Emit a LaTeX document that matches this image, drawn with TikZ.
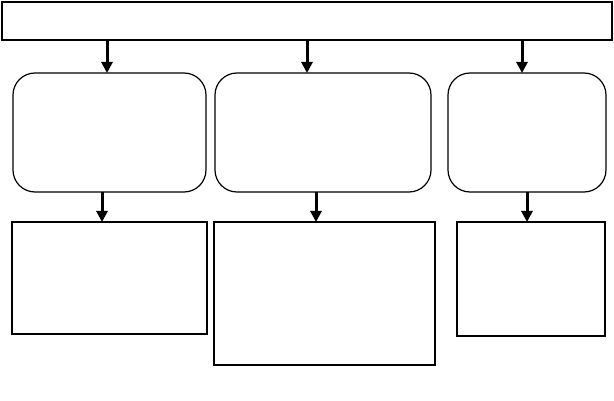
\documentclass[tikz,border=0pt]{standalone}
\usetikzlibrary{arrows.meta}
\begin{document}
\begin{tikzpicture}[x=1pt,y=-1pt,
 box/.style={draw,line width=1.2pt,inner sep=0pt,outer sep=0pt,anchor=north west},
 rbox/.style={box,rounded corners=22pt},
 arr/.style={draw,line width=3pt,-{Triangle[width=11pt,length=11pt]}}]
\useasboundingbox (0,0) rectangle (614,401);
\node[box,minimum width=610pt,minimum height=38pt] (top) at (2,2) {};
\node[rbox,minimum width=193pt,minimum height=119pt] (b1) at (13,73) {};
\node[rbox,minimum width=216pt,minimum height=119pt] (b2) at (215,73) {};
\node[rbox,minimum width=158pt,minimum height=119pt] (b3) at (448,73) {};
\node[box,minimum width=195pt,minimum height=112pt] (r1) at (12,222) {};
\node[box,minimum width=221pt,minimum height=143pt] (r2) at (214,222) {};
\node[box,minimum width=148pt,minimum height=114pt] (r3) at (457,222) {};
\coordinate (a1) at (107,0);
\coordinate (a2) at (307,0);
\coordinate (a3) at (522,0);
\coordinate (c1) at (102,0);
\coordinate (c2) at (316,0);
\coordinate (c3) at (527,0);
\path[arr] (top.south -| a1) -- (b1.north -| a1);
\path[arr] (top.south -| a2) -- (b2.north -| a2);
\path[arr] (top.south -| a3) -- (b3.north -| a3);
\path[arr] (b1.south -| c1) -- (r1.north -| c1);
\path[arr] (b2.south -| c2) -- (r2.north -| c2);
\path[arr] (b3.south -| c3) -- (r3.north -| c3);
\end{tikzpicture}
\end{document}
